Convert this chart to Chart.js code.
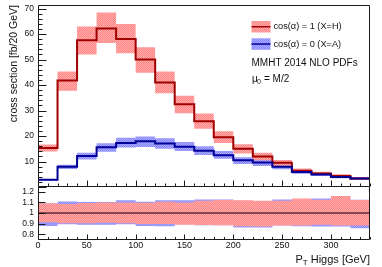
<!DOCTYPE html>
<html><head><meta charset="utf-8">
<script src="https://cdn.jsdelivr.net/npm/chart.js@4/dist/chart.umd.min.js"></script>
<style>
html,body{margin:0;padding:0;background:#fff;}
#wrap{position:relative;width:382px;height:267px;overflow:hidden;}
canvas{position:absolute;left:0;}
</style></head><body>
<div id="wrap">
<canvas id="topc" width="382" height="190" style="top:0;width:382px;height:190px"></canvas>
<canvas id="botc" width="382" height="80" style="top:187px;width:382px;height:80px"></canvas>
</div>
<script>
// ---- data ----
const binEdges = [0,20,40,60,80,100,120,140,160,180,200,220,240,260,280,300,320,340];
const xsecH = [15.3,41.8,57.6,62.2,58.1,50.0,41.0,32.5,25.8,19.5,15.0,12.0,9.5,6.4,5.3,4.3,3.3];
const xsecA = [2.8,7.9,12.2,15.6,17.3,17.9,17.1,15.8,14.2,12.5,10.5,9.6,7.9,5.9,4.9,3.9,3.3];
const ratioUpH   = [1.091,1.084,1.094,1.100,1.100,1.097,1.106,1.100,1.116,1.122,1.119,1.116,1.116,1.137,1.125,1.160,1.122];
const ratioDownH = [0.912,0.903,0.903,0.909,0.903,0.897,0.897,0.890,0.887,0.884,0.875,0.872,0.881,0.881,0.890,0.881,0.881];
const ratioUpA   = [1.090,1.109,1.103,1.103,1.119,1.106,1.119,1.119,1.128,1.128,1.116,1.113,1.128,1.130,1.137,1.140,1.125];
const ratioDownA = [0.878,0.894,0.888,0.888,0.894,0.878,0.875,0.894,0.884,0.884,0.862,0.862,0.881,0.875,0.872,0.872,0.856];
const ratioCentral = [1,1,1,1,1,1,1,1,1,1,1,1,1,1,1,1,1];
const xTickLabels = [0,50,100,150,200,250,300];
const yTickLabelsTop = [10,20,30,40,50,60,70];
const yTickLabelsRatio = [0.8,0.9,1,1.1,1.2];
const labelH = 'cos(\u03b1) = 1 (X=H)';
const labelA = 'cos(\u03b1) = 0 (X=A)';

// ---- helpers ----
function steps(vals){ return binEdges.map((x,i)=>({x:x, y: vals[Math.min(i, vals.length-1)]})); }
function scaled(vals, r){ return vals.map((v,i)=>v*r[i]); }
function makePattern(c1, c2){
  const p = document.createElement('canvas'); p.width = 2; p.height = 2;
  const g = p.getContext('2d');
  g.fillStyle = c2; g.fillRect(0,0,2,2);
  g.fillStyle = c1; g.fillRect(0,0,1,1); g.fillRect(1,1,1,1);
  return g.createPattern(p, 'repeat');
}
const ctxTop = document.getElementById('topc').getContext('2d');
const redFill = makePattern('rgb(255,132,132)', 'rgb(255,172,172)');
const blueFill = makePattern('rgb(132,132,255)', 'rgb(172,172,255)');
const redLine = 'rgb(160,0,0)';
const blueLine = 'rgb(0,0,150)';
const FONT = '"Liberation Sans", Arial, sans-serif';

function band(vals, up, down, fill, ord){
  return [
    {data: steps(scaled(vals, up)), fill: '+1', backgroundColor: fill, borderColor: 'transparent', borderWidth: 0, pointRadius: 0, stepped: true, order: ord},
    {data: steps(scaled(vals, down)), fill: false, borderColor: 'transparent', borderWidth: 0, pointRadius: 0, stepped: true, order: ord}
  ];
}
function line(vals, color, ord){
  return {data: steps(vals), fill: false, borderColor: color, borderWidth: 2, pointRadius: 0, stepped: true, order: ord};
}
function noPadY(s, w){ s.width = w; s.paddingTop = 0; s.paddingBottom = 0; }
function noPadX(s, h){ s.height = h; s.paddingLeft = 0; s.paddingRight = 0; }

const frameTicks = {
  id: 'frameTicks',
  afterDatasetsDraw(chart, args, o){
    const {ctx, chartArea: a, scales} = chart;
    ctx.save();
    ctx.strokeStyle = '#1a1a1a'; ctx.lineWidth = 1;
    const L = Math.round(a.left)+0.5, R = Math.round(a.right)-0.5, T = Math.round(a.top)+0.5, B = Math.round(a.bottom)-0.5;
    ctx.beginPath();
    for (let v = 0; v <= 340; v += 10){
      const px = Math.round(scales.x.getPixelForValue(v))+0.5;
      const len = (v % 50 === 0) ? o.xMaj : o.xMin;
      ctx.moveTo(px, B); ctx.lineTo(px, B-len);
    }
    for (const t of o.yTicks){
      const py = Math.round(scales.y.getPixelForValue(t[0]))+0.5;
      ctx.moveTo(L, py); ctx.lineTo(L+t[1], py);
    }
    // frame
    ctx.moveTo(L, B); ctx.lineTo(R, B);
    ctx.moveTo(L, T - (o.topEdge ? 0 : 0.5)); ctx.lineTo(L, B);
    ctx.moveTo(R, T - (o.topEdge ? 0 : 0.5)); ctx.lineTo(R, B);
    if (o.topEdge) { ctx.moveTo(L, T); ctx.lineTo(R, T); }
    ctx.stroke();
    ctx.restore();
  }
};

// ---- top panel ----
const topYTicks = [];
for (let v = 0; v <= 70; v += 2) topYTicks.push([v, v % 10 === 0 ? 8 : 4]);

const topTexts = {
  id: 'topTexts',
  afterDraw(chart){
    const ctx = chart.ctx;
    ctx.save();
    ctx.translate(17, 5);
    ctx.rotate(-Math.PI/2);
    ctx.font = '10.5px ' + FONT; ctx.fillStyle = '#111';
    ctx.textAlign = 'right'; ctx.textBaseline = 'alphabetic';
    ctx.fillText('cross section [fb/20 GeV]', 0, 0);
    ctx.restore();
    ctx.save();
    const sx = 251.5, sw = 19;
    [[redFill, redLine, labelH, 21, 26.8],[blueFill, blueLine, labelA, 38.3, 44]].forEach(e => {
      ctx.fillStyle = e[0]; ctx.fillRect(sx, e[3], sw, 11.5);
      ctx.strokeStyle = e[1]; ctx.lineWidth = 1.5;
      ctx.beginPath(); ctx.moveTo(sx, e[3]+5.75); ctx.lineTo(sx+sw, e[3]+5.75); ctx.stroke();
      ctx.fillStyle = '#111'; ctx.font = '9.2px ' + FONT; ctx.textBaseline = 'middle'; ctx.textAlign = 'left';
      ctx.fillText(e[2], 273.5, e[4]);
    });
    ctx.font = '10px ' + FONT; ctx.fillStyle = '#111'; ctx.textBaseline = 'middle';
    ctx.fillText('MMHT 2014 NLO PDFs', 251.5, 63.5);
    ctx.fillText('\u03bc', 252, 79);
    ctx.font = '7px ' + FONT;
    ctx.fillText('0', 257, 82);
    ctx.font = '10px ' + FONT;
    ctx.fillText('= M/2', 264, 79);
    ctx.restore();
  }
};

new Chart(ctxTop, {
  type: 'line',
  data: { datasets: [
    ...band(xsecA, ratioUpA, ratioDownA, blueFill, 10),
    ...band(xsecH, ratioUpH, ratioDownH, redFill, 8),
    line(xsecH, redLine, 3),
    line(xsecA, blueLine, 2)
  ]},
  options: {
    responsive: false, animation: false,
    layout: { padding: { left: 0, right: 12, top: 5, bottom: 0 } },
    plugins: { legend: { display: false }, tooltip: { enabled: false },
      frameTicks: { xMaj: 6, xMin: 3, yTicks: topYTicks, topEdge: true } },
    scales: {
      x: { type: 'linear', min: 0, max: 340, grid: { display: false, drawTicks: false }, border: { display: false },
           ticks: { display: false }, afterFit: s => noPadX(s, 3) },
      y: { type: 'linear', min: 0, max: 71.4, grid: { display: false, drawTicks: false }, border: { display: false },
           afterBuildTicks: s => { s.ticks = yTickLabelsTop.map(v => ({value: v})); },
           ticks: { color: '#111', font: { family: FONT, size: 8.5 }, padding: 4, autoSkip: false, callback: v => String(v) },
           afterFit: s => noPadY(s, 38) }
    }
  },
  plugins: [frameTicks, topTexts]
});

// ---- ratio panel ----
const botYTicks = yTickLabelsRatio.map(v => [v, 7]);
const botTexts = {
  id: 'botTexts',
  afterDraw(chart){
    const ctx = chart.ctx;
    ctx.save();
    ctx.fillStyle = '#111'; ctx.textBaseline = 'alphabetic'; ctx.textAlign = 'left';
    ctx.font = '11px ' + FONT;
    const wP = ctx.measureText('P').width;
    const rest = ' Higgs [GeV]';
    const wR = ctx.measureText(rest).width;
    ctx.font = '8px ' + FONT;
    const wT = ctx.measureText('T').width;
    const x0 = 370 - (wP + wT + wR);
    const base = 75.5;
    ctx.font = '11px ' + FONT; ctx.fillText('P', x0, base);
    ctx.font = '8px ' + FONT; ctx.fillText('T', x0 + wP, base + 2.5);
    ctx.font = '11px ' + FONT; ctx.fillText(rest, x0 + wP + wT, base);
    ctx.restore();
  }
};

new Chart(document.getElementById('botc').getContext('2d'), {
  type: 'line',
  data: { datasets: [
    ...band(ratioCentral, ratioUpA, ratioDownA, blueFill, 10),
    ...band(ratioCentral, ratioUpH, ratioDownH, redFill, 8),
    line(ratioCentral, 'rgb(135,70,75)', 2)
  ]},
  options: {
    responsive: false, animation: false,
    layout: { padding: { left: 0, right: 12, top: 0, bottom: 0 } },
    plugins: { legend: { display: false }, tooltip: { enabled: false },
      frameTicks: { xMaj: 5, xMin: 2.5, yTicks: botYTicks, topEdge: false } },
    scales: {
      x: { type: 'linear', min: 0, max: 340, grid: { display: false, drawTicks: false }, border: { display: false },
           afterBuildTicks: s => { s.ticks = xTickLabels.map(v => ({value: v})); },
           ticks: { color: '#111', font: { family: FONT, size: 9 }, padding: 1, maxRotation: 0, autoSkip: false, callback: v => String(v) },
           afterFit: s => noPadX(s, 27.5) },
      y: { type: 'linear', min: 0.75, max: 1.245, grid: { display: false, drawTicks: false }, border: { display: false },
           afterBuildTicks: s => { s.ticks = yTickLabelsRatio.map(v => ({value: v})); },
           ticks: { color: '#111', font: { family: FONT, size: 8.5 }, padding: 4, autoSkip: false, callback: v => String(Math.round(v*10)/10) },
           afterFit: s => noPadY(s, 38) }
    }
  },
  plugins: [frameTicks, botTexts]
});
</script>
</body></html>
